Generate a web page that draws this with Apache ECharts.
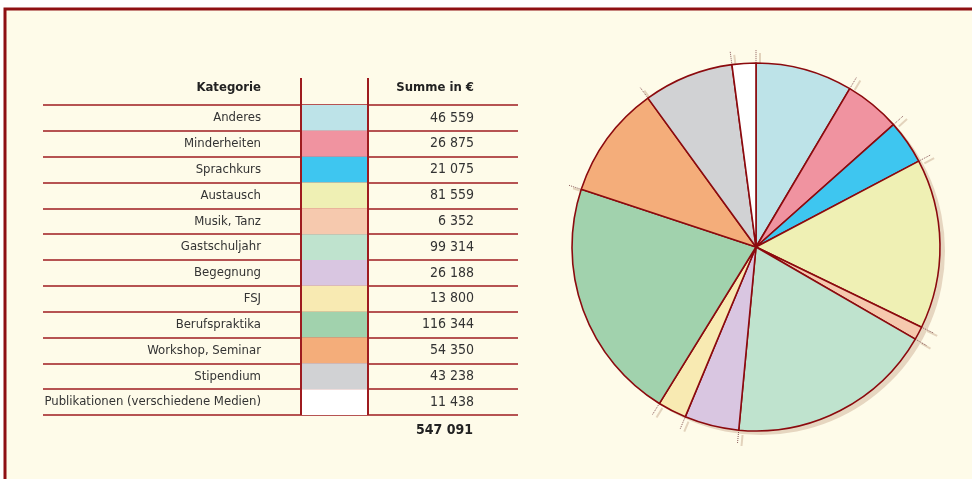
<!DOCTYPE html>
<html><head><meta charset="utf-8">
<script src="https://cdn.jsdelivr.net/npm/echarts@6/dist/echarts.min.js"></script>
<style>html,body{margin:0;padding:0;background:#fff}#c{width:972px;height:479px}</style>
</head><body><div id="c"></div>
<script>
var categories = ['Anderes','Minderheiten','Sprachkurs','Austausch','Musik, Tanz','Gastschuljahr','Begegnung','FSJ','Berufspraktika','Workshop, Seminar','Stipendium','Publikationen (verschiedene Medien)'];
var values = [46559,26875,21075,81559,6352,99314,26188,13800,116344,54350,43238,11438];
var colors = ['#BDE3E8','#F093A0','#3EC6F0','#EFF0B4','#F6C9AE','#BFE3CE','#D9C6E1','#F8EAB2','#A1D2AD','#F4AD7A','#D1D2D4','#FFFFFF'];
var headerCategory = 'Kategorie';
var headerSum = 'Summe in €';
var totalLabel = '547 091';

function fmt(v){ return String(v).replace(/\B(?=(\d{3})+(?!\d))/g,' '); }
var FONT = '"DejaVu Sans Condensed","Liberation Sans Narrow",sans-serif';
var RED = '#9E1B1F';
var chart = echarts.init(document.getElementById('c'));
var sum = values.reduce(function(a,b){return a+b;},0);
var bounds = [], acc = 0;
values.forEach(function(v){ bounds.push([acc]); acc += v; });

chart.setOption({
  animation:false,
  backgroundColor:'#fff',
  graphic:[
    {type:'rect', z:-10, shape:{x:5,y:9,width:1000,height:500}, style:{fill:'#FEFBE9',stroke:'#8E0F12',lineWidth:3}},
    {type:'line', z:50, shape:{x1:301,y1:78,x2:301,y2:415}, style:{stroke:RED,lineWidth:2}},
    {type:'line', z:50, shape:{x1:368,y1:78,x2:368,y2:415}, style:{stroke:RED,lineWidth:2}},
    {type:'text', style:{text:headerCategory,x:261,y:88,align:'right',verticalAlign:'middle',font:'bold 13px '+FONT,fill:'#222'}},
    {type:'text', style:{text:headerSum,x:474,y:88,align:'right',verticalAlign:'middle',font:'bold 13px '+FONT,fill:'#222'}},
    {type:'text', style:{text:totalLabel,x:473,y:430,align:'right',verticalAlign:'middle',font:'bold 14px '+FONT,fill:'#222'}}
  ],
  grid:[
    {left:43,width:475,top:105,height:310},
    {left:301,width:67,top:105,height:310}
  ],
  polar:{center:[756,247],radius:184},
  angleAxis:{type:'value',min:0,max:sum,startAngle:90,clockwise:true,show:false},
  radiusAxis:{type:'value',min:0,max:1,show:false},
  xAxis:[
    {gridIndex:0,type:'value',show:false,min:0,max:1},
    {gridIndex:1,type:'value',show:false,min:0,max:1}
  ],
  yAxis:[
    {gridIndex:0,type:'category',data:categories,inverse:true,axisLine:{show:false},axisTick:{show:false},axisLabel:{show:false},
     splitLine:{show:true,lineStyle:{color:RED,width:1.5}}},
    {gridIndex:1,type:'category',data:categories,inverse:true,position:'left',
     axisLine:{show:false},axisTick:{show:false},
     axisLabel:{margin:40,color:'#333',fontSize:13,fontFamily:FONT}},
    {gridIndex:1,type:'category',data:categories,inverse:true,position:'right',
     axisLine:{show:false},axisTick:{show:false},
     axisLabel:{margin:106,align:'right',color:'#333',fontSize:14,fontFamily:FONT,
       formatter:function(v,i){return fmt(values[i]);}}}
  ],
  series:[
    {type:'bar',xAxisIndex:1,yAxisIndex:1,barWidth:'100%',silent:true,z:1,
     data:values.map(function(v,i){return {value:1,itemStyle:{color:colors[i]}};})},
    {type:'pie',center:[761,251],radius:184,silent:true,label:{show:false},z:0,
     itemStyle:{color:'#E6D6C0'},data:[{value:sum,name:'shadow'}]},
    {type:'pie',center:[756,247],radius:184,startAngle:90,clockwise:true,silent:true,z:2,
     label:{show:false},labelLine:{show:false},
     itemStyle:{borderColor:'#8B0A0E',borderWidth:1.6},
     data:values.map(function(v,i){return {name:categories[i],value:v,itemStyle:{color:colors[i]}};})},
    {type:'custom',coordinateSystem:'polar',silent:true,z:1,data:bounds,
     renderItem:function(params,api){
       var c = api.value(0);
       var a = api.coord([1.01,c]), b = api.coord([1.07,c]);
       return {type:'group',children:[
         {type:'line',shape:{x1:a[0]+4,y1:a[1]+3,x2:b[0]+4,y2:b[1]+3},style:{stroke:'#E3D3BC',lineWidth:2}},
         {type:'line',shape:{x1:a[0],y1:a[1],x2:b[0],y2:b[1]},style:{stroke:'#8A5A5A',lineWidth:1,lineDash:[1,1]}}
       ]};
     }}
  ]
});
</script></body></html>
